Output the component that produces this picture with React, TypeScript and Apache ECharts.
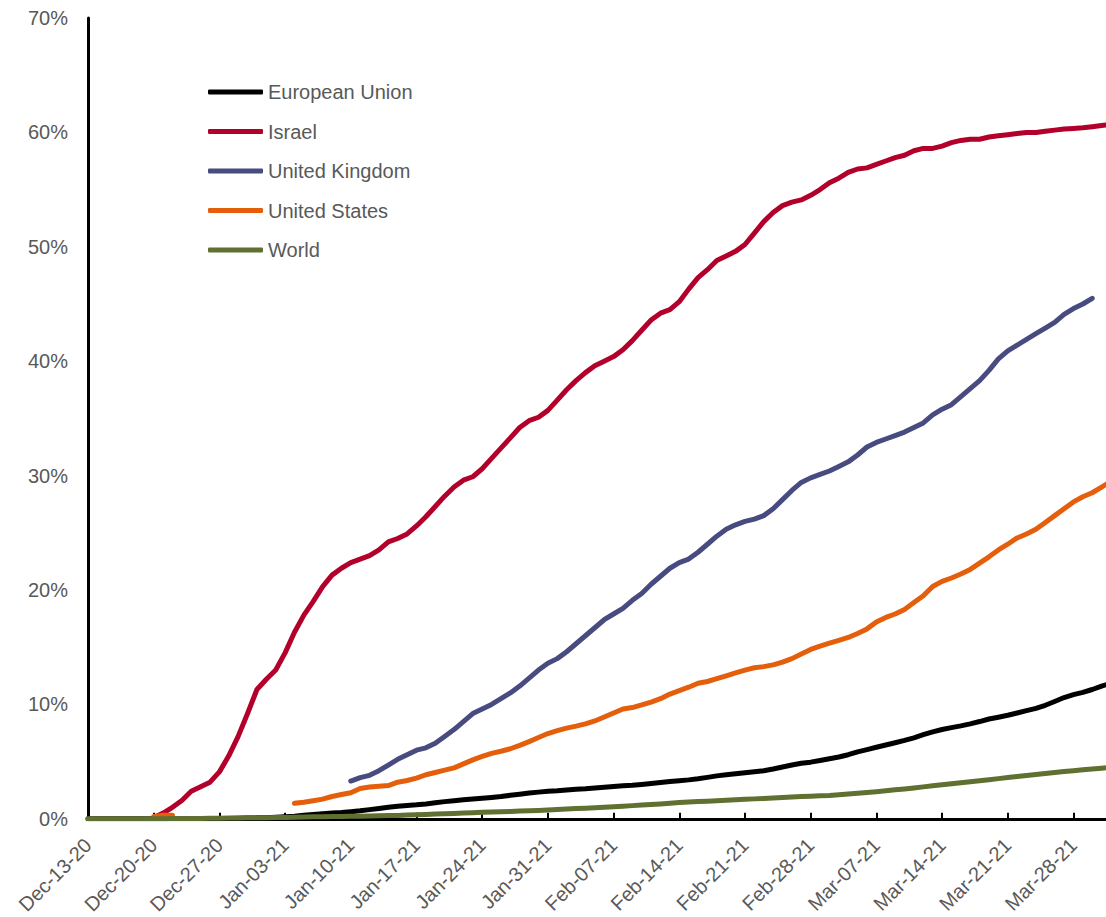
import React, { useEffect, useRef } from "react";
import * as echarts from "echarts";

// Daily category axis: Dec-13-20 through Apr-01-21
const FIRST_DAY = new Date(2020, 11, 13);
const DAY_COUNT = 110;
const MONTHS = ["Jan", "Feb", "Mar", "Apr", "May", "Jun", "Jul", "Aug", "Sep", "Oct", "Nov", "Dec"];

function buildDates(): string[] {
  const out: string[] = [];
  for (let i = 0; i < DAY_COUNT; i++) {
    const d = new Date(FIRST_DAY.getFullYear(), FIRST_DAY.getMonth(), FIRST_DAY.getDate() + i);
    const dd = String(d.getDate()).padStart(2, "0");
    const yy = String(d.getFullYear() % 100).padStart(2, "0");
    out.push(`${MONTHS[d.getMonth()]}-${dd}-${yy}`);
  }
  return out;
}

const dates = buildDates();

// Share of population vaccinated (%), one value per day from each series' start index
const euStart = 0;
const euValues = [
  0, 0, 0, 0, 0, 0, 0, 0, 0, 0, 0, 0, 0, 0,
  0.01, 0.02, 0.04, 0.06, 0.08, 0.1, 0.13, 0.17, 0.22, 0.3, 0.37, 0.45, 0.5, 0.55,
  0.62, 0.7, 0.8, 0.9, 1.0, 1.1, 1.17, 1.22, 1.3, 1.4, 1.5, 1.58, 1.66, 1.73,
  1.8, 1.87, 1.95, 2.05, 2.15, 2.25, 2.33, 2.4, 2.45, 2.52, 2.58, 2.63, 2.7, 2.76,
  2.82, 2.88, 2.93, 3.0, 3.08, 3.17, 3.25, 3.32, 3.4, 3.5, 3.62, 3.75, 3.85, 3.93,
  4.02, 4.12, 4.2, 4.35, 4.52, 4.7, 4.85, 4.95, 5.1, 5.25, 5.4, 5.6, 5.85, 6.05,
  6.25, 6.45, 6.65, 6.85, 7.08, 7.35, 7.6, 7.8, 7.97, 8.12, 8.3, 8.5, 8.72, 8.88,
  9.05, 9.25, 9.45, 9.65, 9.92, 10.25, 10.6, 10.85, 11.05, 11.3, 11.6, 11.85,
];

const israelStart = 7;
const israelValues = [
  0.1, 0.5, 1.0, 1.6, 2.4, 2.8, 3.2,
  4.1, 5.5, 7.2, 9.2, 11.3, 12.2, 13.0,
  14.5, 16.3, 17.8, 19.0, 20.3, 21.3, 21.9,
  22.4, 22.7, 23.0, 23.5, 24.2, 24.5, 24.9,
  25.6, 26.4, 27.3, 28.2, 29.0, 29.6, 29.9,
  30.6, 31.5, 32.4, 33.3, 34.2, 34.8, 35.1,
  35.7, 36.6, 37.5, 38.3, 39.0, 39.6, 40.0,
  40.4, 41.0, 41.8, 42.7, 43.6, 44.2, 44.5,
  45.2, 46.3, 47.3, 48.0, 48.8, 49.2, 49.6,
  50.2, 51.2, 52.2, 53.0, 53.6, 53.9, 54.1,
  54.5, 55.0, 55.6, 56.0, 56.5, 56.8, 56.9,
  57.2, 57.5, 57.8, 58.0, 58.4, 58.6, 58.6,
  58.8, 59.1, 59.3, 59.4, 59.4, 59.6, 59.7,
  59.8, 59.9, 60.0, 60.0, 60.1, 60.2, 60.3,
  60.35, 60.4, 60.5, 60.6, 60.7,
];

const ukStart = 28;
const ukValues = [
  3.3, 3.6, 3.8, 4.2, 4.7, 5.2, 5.6,
  6.0, 6.2, 6.6, 7.2, 7.8, 8.5, 9.2,
  9.6, 10.0, 10.5, 11.0, 11.6, 12.3, 13.0,
  13.6, 14.0, 14.6, 15.3, 16.0, 16.7, 17.4,
  17.9, 18.4, 19.1, 19.7, 20.5, 21.2, 21.9,
  22.4, 22.7, 23.3, 24.0, 24.7, 25.3, 25.7,
  26.0, 26.2, 26.5, 27.1, 27.9, 28.7, 29.4,
  29.8, 30.1, 30.4, 30.8, 31.2, 31.8, 32.5,
  32.9, 33.2, 33.5, 33.8, 34.2, 34.6, 35.3,
  35.8, 36.2, 36.9, 37.6, 38.3, 39.2, 40.2,
  40.9, 41.4, 41.9, 42.4, 42.9, 43.4, 44.1,
  44.6, 45.0, 45.5,
];

// null marks days with no reported figure
const usStart = 7;
const usValues = [
  0.2, 0.3, 0.3,
  null, null, null, null, null, null, null, null, null, null, null, null,
  1.35, 1.45, 1.58, 1.72, 1.95, 2.12,
  2.28, 2.65, 2.78, 2.85, 2.9, 3.2, 3.35,
  3.55, 3.85, 4.05, 4.25, 4.45, 4.8, 5.15,
  5.45, 5.72, 5.9, 6.12, 6.42, 6.75, 7.1,
  7.45, 7.7, 7.92, 8.1, 8.3, 8.55, 8.9,
  9.25, 9.6, 9.72, 9.95, 10.2, 10.5, 10.9,
  11.2, 11.5, 11.85, 12.0, 12.25, 12.5, 12.75,
  13.0, 13.2, 13.3, 13.45, 13.7, 14.0, 14.4,
  14.8, 15.1, 15.35, 15.6, 15.85, 16.2, 16.6,
  17.2, 17.6, 17.9, 18.3, 18.9, 19.5, 20.3,
  20.75, 21.05, 21.4, 21.8, 22.35, 22.9, 23.5,
  24.0, 24.55, 24.9, 25.3, 25.9, 26.5, 27.1,
  27.7, 28.15, 28.5, 29.0, 29.5,
];

const worldStart = 0;
const worldValues = [
  0, 0, 0, 0, 0, 0, 0,
  0.01, 0.01, 0.02, 0.02, 0.03, 0.03, 0.04,
  0.05, 0.06, 0.07, 0.08, 0.09, 0.1, 0.11,
  0.12, 0.14, 0.15, 0.17, 0.18, 0.19, 0.2,
  0.22, 0.23, 0.25, 0.26, 0.28, 0.29, 0.32,
  0.35, 0.38, 0.41, 0.44, 0.47, 0.5, 0.53,
  0.56, 0.59, 0.62, 0.64, 0.67, 0.7, 0.73,
  0.77, 0.81, 0.85, 0.89, 0.93, 0.97, 1.01,
  1.05, 1.1, 1.15, 1.2, 1.25, 1.3, 1.36,
  1.42, 1.46, 1.5, 1.54, 1.58, 1.62, 1.66,
  1.7, 1.74, 1.78, 1.82, 1.86, 1.9, 1.94,
  1.98, 2.01, 2.04, 2.1, 2.16, 2.23, 2.3,
  2.37, 2.45, 2.53, 2.61, 2.7, 2.79, 2.88,
  2.97, 3.06, 3.15, 3.24, 3.33, 3.42, 3.51,
  3.6, 3.69, 3.78, 3.87, 3.96, 4.05, 4.13,
  4.2, 4.28, 4.35, 4.42, 4.5,
];

const seriesNames = ["European Union", "Israel", "United Kingdom", "United States", "World"];
const seriesColors = ["#000000", "#B2002B", "#474B7F", "#E45E0C", "#5F7030"];

const yTicks = { min: 0, max: 70, step: 10 };

function placeOnAxis(start: number, values: (number | null)[]): (number | null)[] {
  const out: (number | null)[] = new Array(DAY_COUNT).fill(null);
  values.forEach((v, i) => {
    if (start + i < DAY_COUNT) out[start + i] = v;
  });
  return out;
}

const FONT = "'Liberation Sans', Arial, sans-serif";
const TEXT_COLOR = "#595959";

export default function App() {
  const ref = useRef<HTMLDivElement>(null);

  useEffect(() => {
    if (!ref.current) return;
    const chart = echarts.init(ref.current, undefined, { renderer: "svg" });

    const seriesData = [
      placeOnAxis(euStart, euValues),
      placeOnAxis(israelStart, israelValues),
      placeOnAxis(ukStart, ukValues),
      placeOnAxis(usStart, usValues),
      placeOnAxis(worldStart, worldValues),
    ];

    chart.setOption({
      animation: false,
      backgroundColor: "#ffffff",
      textStyle: { fontFamily: FONT },
      grid: { left: 88, right: 9, top: 18, bottom: 97, containLabel: false },
      legend: {
        data: seriesNames,
        orient: "vertical",
        left: 203,
        top: 77,
        icon: "roundRect",
        itemWidth: 55,
        itemHeight: 5,
        itemGap: 19.5,
        selectedMode: false,
        textStyle: { fontSize: 20, lineHeight: 20, color: TEXT_COLOR, fontFamily: FONT },
      },
      xAxis: {
        type: "category",
        data: dates,
        boundaryGap: false,
        axisLine: { show: true, lineStyle: { color: "#000000", width: 3 } },
        axisTick: {
          show: true,
          inside: true,
          interval: 6,
          length: 6,
          lineStyle: { color: "#000000", width: 2 },
        },
        axisLabel: {
          interval: 6,
          rotate: 45,
          margin: 23,
          fontSize: 20,
          color: TEXT_COLOR,
          fontFamily: FONT,
        },
        splitLine: { show: false },
      },
      yAxis: {
        type: "value",
        min: yTicks.min,
        max: yTicks.max,
        interval: yTicks.step,
        axisLine: { show: true, lineStyle: { color: "#000000", width: 3 } },
        axisTick: { show: false },
        splitLine: { show: false },
        axisLabel: {
          formatter: "{value}%",
          margin: 20,
          fontSize: 20,
          color: TEXT_COLOR,
          fontFamily: FONT,
        },
      },
      series: seriesNames.map((name, i) => ({
        name,
        type: "line",
        data: seriesData[i],
        symbol: "none",
        showSymbol: false,
        connectNulls: false,
        color: seriesColors[i],
        lineStyle: { width: 5, color: seriesColors[i], cap: "round", join: "round" },
        emphasis: { disabled: true },
      })),
    });

    return () => chart.dispose();
  }, []);

  return (
    <div
      style={{
        position: "fixed",
        left: 0,
        top: 0,
        width: 1106,
        height: 917,
        overflow: "hidden",
        background: "#ffffff",
      }}
    >
      <div ref={ref} style={{ width: 1120, height: 917 }} />
    </div>
  );
}
